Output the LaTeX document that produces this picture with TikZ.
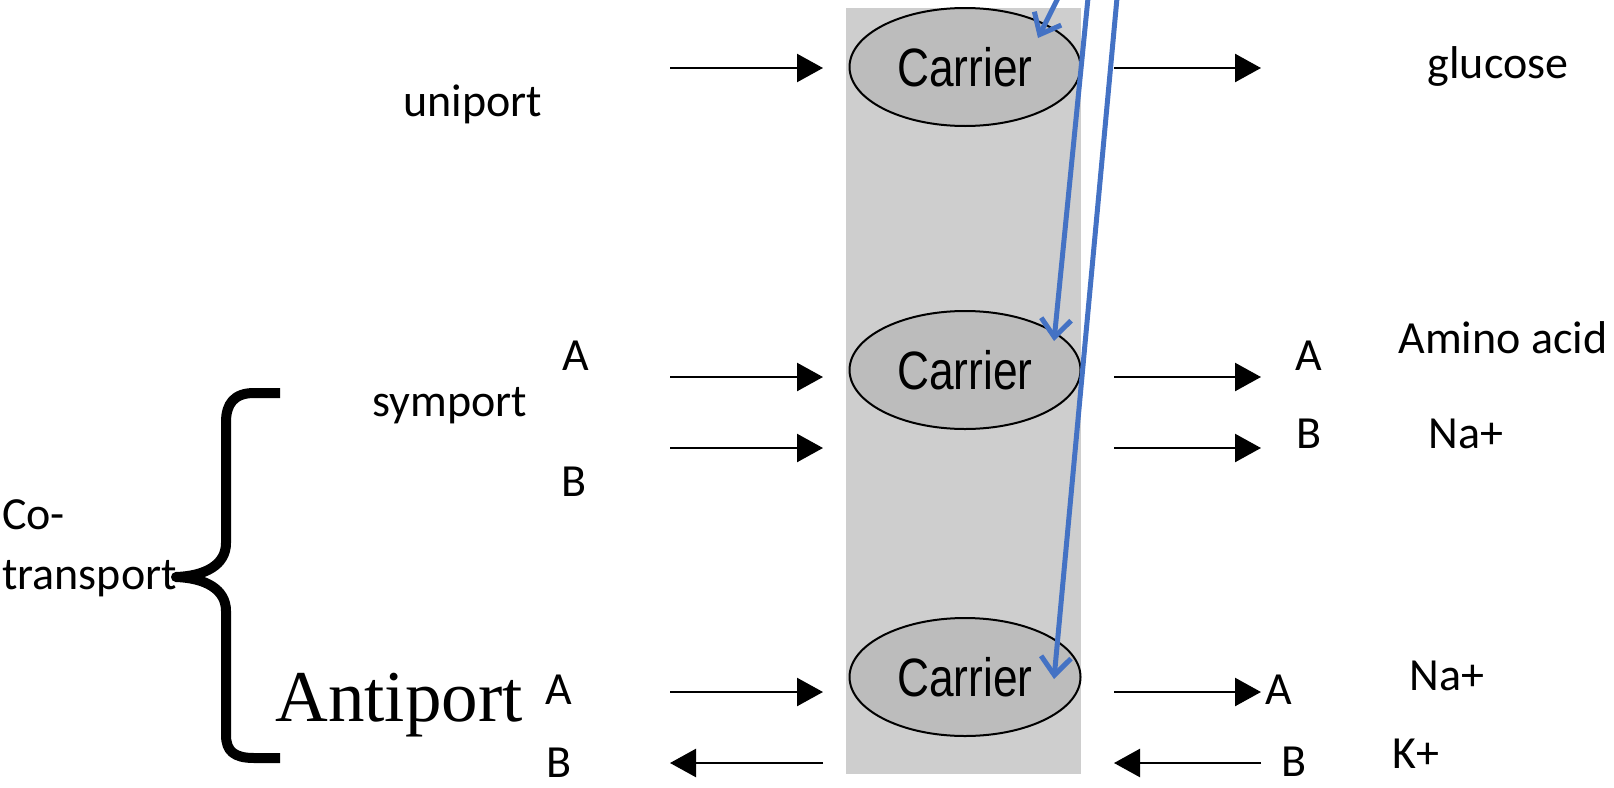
\documentclass[tikz,border=0pt]{standalone}
\usepackage{fontspec}
\usepackage{graphicx}
\setmainfont{Carlito}
\newfontfamily\timesf{Liberation Serif}
\newfontfamily\arialf{Liberation Sans}
\usetikzlibrary{arrows.meta,shapes.geometric}
\definecolor{office}{RGB}{68,114,196}
\definecolor{membrane}{RGB}{206,206,206}
\definecolor{carrierfill}{RGB}{188,188,188}
\begin{document}
\begin{tikzpicture}[x=1pt,y=-1pt,
  lbl/.style={font=\fontsize{46}{55}\selectfont, inner sep=0pt},
  carrier/.style={ellipse, draw=black, line width=2pt, fill=carrierfill,
    minimum width=231pt, minimum height=118pt, inner sep=0pt,
    font=\arialf\fontsize{54}{60}\selectfont},
  flow/.style={line width=2.5pt, -{Triangle[length=26pt,width=28pt]}},
  pointer/.style={draw=office, line width=5pt, -{Straight Barb[length=18pt,width=30pt]}}]
\useasboundingbox (0,0) rectangle (1614,787);
% membrane
\fill[membrane] (846,8) rectangle (1081,774);
% carriers
\node[carrier] (c1) at (965,67) {\scalebox{0.82}[1]{Carrier}};
\node[carrier] (c2) at (965,370) {\scalebox{0.82}[1]{Carrier}};
\node[carrier] (c3) at (965,677) {\scalebox{0.82}[1]{Carrier}};
% arrow end coordinates
\coordinate (l1a) at (670,68);  \coordinate (l1b) at (823,68);
\coordinate (r1a) at (1114,68); \coordinate (r1b) at (1261,68);
\coordinate (l2a) at (670,377); \coordinate (l2b) at (823,377);
\coordinate (l3a) at (670,448); \coordinate (l3b) at (823,448);
\coordinate (r2a) at (1114,377); \coordinate (r2b) at (1261,377);
\coordinate (r3a) at (1114,448); \coordinate (r3b) at (1261,448);
\coordinate (l4a) at (670,692); \coordinate (l4b) at (823,692);
\coordinate (l5a) at (670,763); \coordinate (l5b) at (823,763);
\coordinate (r4a) at (1114,692); \coordinate (r4b) at (1261,692);
\coordinate (r5a) at (1114,763); \coordinate (r5b) at (1261,763);
\draw[flow] (l1a) -- (l1b);
\draw[flow] (r1a) -- (r1b);
\draw[flow] (l2a) -- (l2b);
\draw[flow] (l3a) -- (l3b);
\draw[flow] (r2a) -- (r2b);
\draw[flow] (r3a) -- (r3b);
\draw[flow] (l4a) -- (l4b);
\draw[flow] (l5b) -- (l5a);
\draw[flow] (r4a) -- (r4b);
\draw[flow] (r5b) -- (r5a);
% labels
\node[lbl] (uni) at (473,104) {uniport};
\node[lbl] (glu) at (1498,66) {glucose};
\node[lbl] (sym) at (450,406) {symport};
\node[lbl] (sA) at (576,356) {A};
\node[lbl] (sB) at (574,482) {B};
\node[lbl] (sAr) at (1309,356) {A};
\node[lbl] (sBr) at (1309,434) {B};
\node[lbl] (amino) at (1503,338) {Amino acid};
\node[lbl] (na1) at (1466,434) {Na+};
\node[inner sep=0pt, font=\timesf\fontsize{73}{80}\selectfont] (anti) at (399,705) {Antiport};
\node[lbl] (aA) at (559,690) {A};
\node[lbl] (aB) at (559,763) {B};
\node[lbl] (aAr) at (1279,690) {A};
\node[lbl] (aBr) at (1294,762) {B};
\node[lbl] (na2) at (1447,676) {Na+};
\node[lbl] (kp) at (1416,754) {K+};
\node[lbl, anchor=west] (co) at (2,515) {Co-};
\node[lbl, anchor=west] (tr) at (2,579) {transport};
% brace
\draw[line width=10pt, line join=round] (280,393) -- (254,393)
  .. controls (234,393) and (226,404) .. (226,422) -- (226,543)
  .. controls (226,565) and (205,576) .. (176,577)
  .. controls (205,578) and (226,589) .. (226,611) -- (226,735)
  .. controls (226,751) and (234,758) .. (254,758) -- (280,758);
% blue pointers
\coordinate (p1) at (1058,-2);
\coordinate (p2) at (1088,-2);
\coordinate (p3) at (1117,-2);
\draw[pointer] (p1) -- (1038,38);
\draw[pointer] (p2) -- (1054,341);
\draw[pointer] (p3) -- (1054,679);
\end{tikzpicture}
\end{document}
